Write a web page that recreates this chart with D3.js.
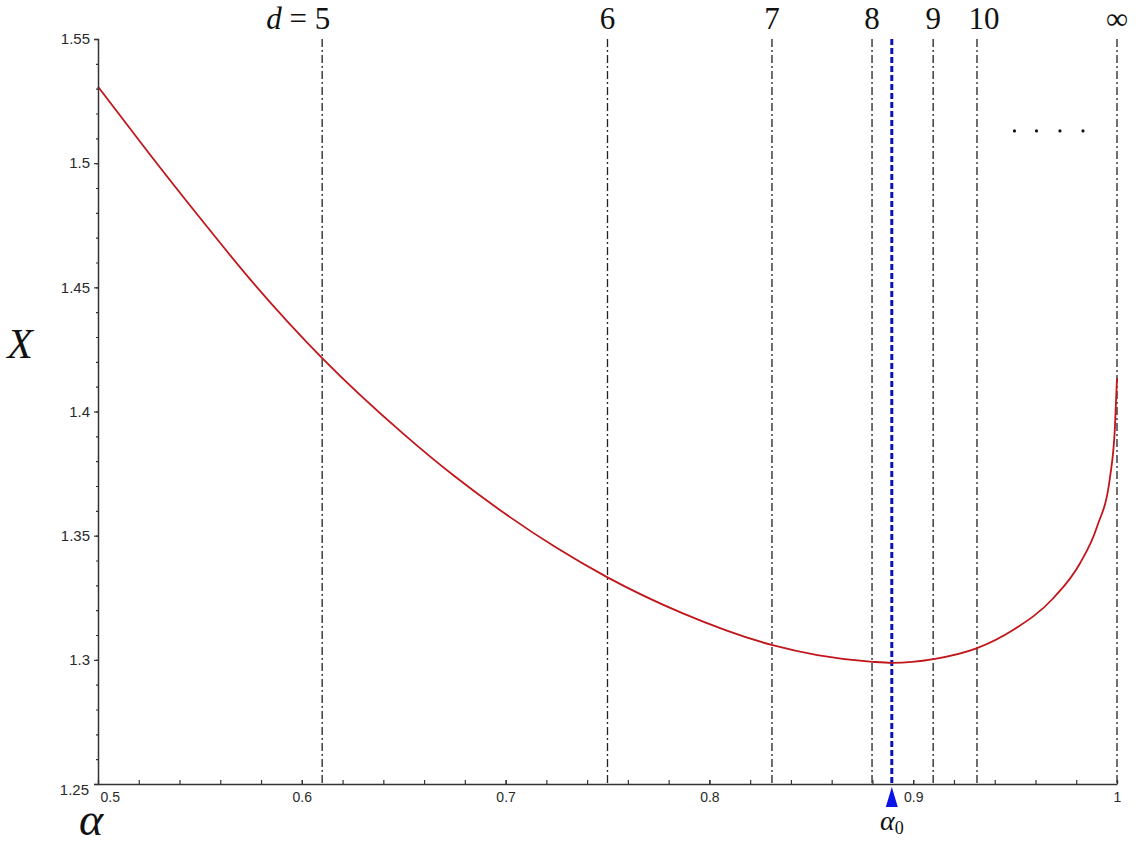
<!DOCTYPE html>
<html>
<head>
<meta charset="utf-8">
<script src="https://cdn.jsdelivr.net/npm/d3@7"></script>
<style>
  html, body { margin: 0; padding: 0; background: #fff; }
  svg { display: block; }
</style>
</head>
<body>
<svg id="chart" width="1141" height="846"></svg>
<script>
// ---- data ----
const alphaValues = [0.5, 0.525, 0.55, 0.575, 0.61, 0.65, 0.675, 0.7, 0.725, 0.75, 0.787, 0.831, 0.853, 0.88, 0.8896, 0.91, 0.931, 0.949, 0.9686, 0.9818, 0.9902, 0.9966, 0.999, 1.0];
const xValues     = [1.5308, 1.5040, 1.4780, 1.4529, 1.4215, 1.3909, 1.3739, 1.3587, 1.3451, 1.3332, 1.3187, 1.3059, 1.3019, 1.2992, 1.2988, 1.3003, 1.3046, 1.312, 1.3247, 1.3388, 1.3536, 1.3737, 1.3939, 1.4134];

const dimLabels = ["5", "6", "7", "8", "9", "10", "\u221E"];
const dimAlphas = [0.61, 0.75, 0.8307, 0.8798, 0.9098, 0.9313, 1.0];
const alpha0 = 0.8895;

const xTickValues = [0.5, 0.6, 0.7, 0.8, 0.9, 1.0];
const xTickLabels = ["0.5", "0.6", "0.7", "0.8", "0.9", "1"];
const yTickValues = [1.25, 1.3, 1.35, 1.4, 1.45, 1.5, 1.55];
const yTickLabels = ["1.25", "1.3", "1.35", "1.4", "1.45", "1.5", "1.55"];

const dotAlphas = [0.9497, 0.9605, 0.972, 0.9833];
const dotX = 1.513;

// ---- layout ----
const svg = d3.select("#chart");
const x = d3.scaleLinear().domain([0.5, 1.0]).range([98, 1117]);
const y = d3.scaleLinear().domain([1.25, 1.55]).range([784, 39]);
const axisColor = "#333";
const tickFont = "'Liberation Sans', Arial, sans-serif";
const serif = "'Liberation Serif', 'Times New Roman', serif";

// vertical dash-dot lines
svg.append("g").selectAll("line").data(dimAlphas).join("line")
  .attr("x1", d => x(d)).attr("x2", d => x(d))
  .attr("y1", y(1.55)).attr("y2", y(1.25))
  .attr("stroke", "#222").attr("stroke-width", 1.3)
  .attr("stroke-dasharray", "8,3,2,3");

// alpha0 blue dashed line
svg.append("line")
  .attr("x1", x(alpha0)).attr("x2", x(alpha0))
  .attr("y1", y(1.55)).attr("y2", y(1.25))
  .attr("stroke", "#0a14b4").attr("stroke-width", 3)
  .attr("stroke-dasharray", "6,3");

// curve
const line = d3.line()
  .x((d, i) => x(alphaValues[i]))
  .y(d => y(d))
  .curve(d3.curveMonotoneX);
svg.append("path").datum(xValues)
  .attr("d", line)
  .attr("fill", "none")
  .attr("stroke", "#c0161c")
  .attr("stroke-width", 1.8);

// axes
const yAxis = d3.axisLeft(y).tickValues(yTickValues)
  .tickFormat((d, i) => yTickLabels[i]).tickSize(4).tickPadding(4);
const gy = svg.append("g").attr("transform", `translate(${x(0.5)},0)`).call(yAxis);
const yMinor = d3.range(125, 156, 1).map(v => v / 100);
svg.append("g").attr("transform", `translate(${x(0.5)},0)`)
  .call(d3.axisLeft(y).tickValues(yMinor).tickSize(2).tickFormat(""))
  .call(g => g.select(".domain").remove());

const xAxis = d3.axisBottom(x).tickValues(xTickValues)
  .tickFormat((d, i) => xTickLabels[i]).tickSizeInner(-4).tickSizeOuter(0).tickPadding(8);
const gx = svg.append("g").attr("transform", `translate(0,${y(1.25)})`).call(xAxis);
const xMinor = d3.range(50, 101, 2).map(v => v / 100);
svg.append("g").attr("transform", `translate(0,${y(1.25)})`)
  .call(d3.axisBottom(x).tickValues(xMinor).tickSizeInner(-4).tickSizeOuter(0).tickFormat(""))
  .call(g => g.select(".domain").remove());

svg.selectAll(".domain").attr("stroke", axisColor).attr("stroke-width", 1.5);
svg.selectAll(".tick line").attr("stroke", axisColor).attr("stroke-width", 1.2);
svg.selectAll(".tick text").attr("fill", "#2a2a2a")
  .style("font-family", tickFont).style("font-size", "14px");
gy.selectAll(".tick text").style("font-size", "15px");
gy.selectAll(".tick text").filter(d => d === 1.25).attr("dy", "0.7em").attr("x", -9);
gx.selectAll(".tick text").filter(d => d === 0.5).attr("text-anchor", "start").attr("x", 2);

// top labels
svg.append("g").selectAll("text").data(dimLabels).join("text")
  .attr("x", (d, i) => {
    if (d === "10") return x(dimAlphas[i]) + 7;
    return x(dimAlphas[i]);
  })
  .attr("y", 29)
  .attr("text-anchor", "middle")
  .style("font-family", serif).style("font-size", "31px").attr("fill", "#111")
  .each(function(d, i) {
    const t = d3.select(this);
    if (i === 0) {
      t.attr("text-anchor", "end").attr("x", x(dimAlphas[i]) + 8);
      t.append("tspan").style("font-style", "italic").text("d");
      t.append("tspan").text(" = " + d);
    } else {
      t.text(d);
    }
  });

// dots
svg.append("g").selectAll("circle").data(dotAlphas).join("circle")
  .attr("cx", d => x(d)).attr("cy", y(dotX)).attr("r", 1.6).attr("fill", "#111");

// alpha0 marker
const ax0 = x(alpha0), ay0 = y(1.25);
svg.append("path")
  .attr("d", `M${ax0},${ay0 + 3} L${ax0 + 6},${ay0 + 23} L${ax0 - 6},${ay0 + 23} Z`)
  .attr("fill", "#0a14e6");
const a0 = svg.append("text").attr("x", ax0).attr("y", ay0 + 46)
  .attr("text-anchor", "middle")
  .style("font-family", serif).style("font-size", "28px").attr("fill", "#111");
a0.append("tspan").style("font-style", "italic").text("\u03B1");
a0.append("tspan").attr("dy", 4).style("font-size", "18px").text("0");

// axis titles
svg.append("text").attr("x", 20).attr("y", 358).attr("text-anchor", "middle")
  .style("font-family", serif).style("font-style", "italic").style("font-size", "42px")
  .attr("fill", "#111").text("X");
svg.append("text").attr("x", 91).attr("y", 835).attr("text-anchor", "middle")
  .style("font-family", serif).style("font-style", "italic").style("font-size", "46px")
  .attr("fill", "#111").text("\u03B1");
</script>
</body>
</html>
